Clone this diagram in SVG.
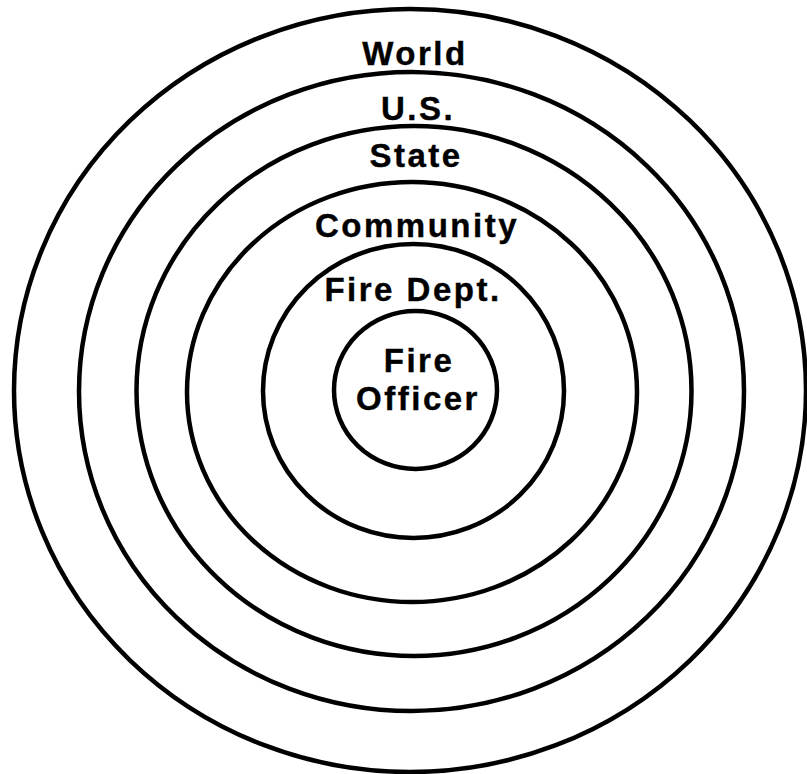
<svg xmlns="http://www.w3.org/2000/svg" width="807" height="774" viewBox="0 0 807 774">
<style>
.ring{fill:none;stroke:#000;stroke-width:4.5}
.lbl{font-family:"Liberation Sans",Arial,sans-serif;font-weight:bold;font-size:33px;letter-spacing:2.5px;fill:#000;text-anchor:middle;stroke:#000;stroke-width:0.4}
</style>
<rect width="807" height="774" fill="#fff"/>
<g id="world"><ellipse class="ring" cx="410" cy="390.5" rx="396" ry="381.5"/><text class="lbl" x="415" y="65">World</text></g>
<g id="us"><ellipse class="ring" cx="411.5" cy="391.5" rx="332.5" ry="319.5"/><text class="lbl" x="418" y="120">U.S.</text></g>
<g id="state"><ellipse class="ring" cx="414" cy="391" rx="277.5" ry="265"/><text class="lbl" x="416" y="167">State</text></g>
<g id="community"><ellipse class="ring" cx="412" cy="392" rx="225" ry="210"/><text class="lbl" x="417" y="237">Community</text></g>
<g id="firedept"><ellipse class="ring" cx="413.5" cy="391" rx="150.5" ry="147"/><text class="lbl" x="413" y="301">Fire Dept.</text></g>
<g id="fireofficer"><ellipse class="ring" cx="415.5" cy="390" rx="81.5" ry="79"/><text class="lbl" x="419" y="372">Fire</text><text class="lbl" x="418" y="410">Officer</text></g>
<g id="connectors"/>
</svg>
